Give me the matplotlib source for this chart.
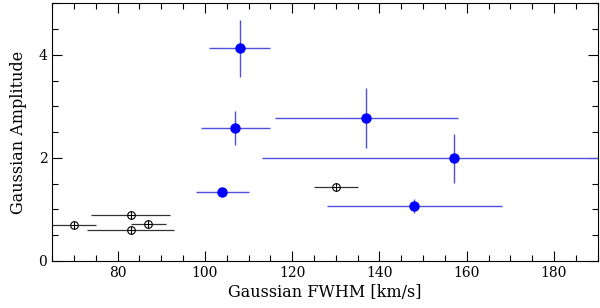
import matplotlib
matplotlib.use("Agg")
import matplotlib.pyplot as plt
from matplotlib.ticker import MultipleLocator

plt.rcParams['font.family'] = ['DejaVu Serif']

# Blue filled points
blue_fwhm = [108, 107, 137, 157, 104, 148]
blue_amp = [4.13, 2.58, 2.78, 1.99, 1.34, 1.07]
blue_fwhm_err = [7, 8, 21, 44, 6, 20]
blue_amp_err = [0.55, 0.33, 0.58, 0.47, 0.0, 0.14]

# Open black points
open_fwhm = [70, 83, 87, 83, 130]
open_amp = [0.70, 0.90, 0.72, 0.60, 1.43]
open_fwhm_err = [5, 9, 4, 10, 5]
open_amp_err = [0.05, 0.06, 0.05, 0.06, 0.05]

fig = plt.figure(figsize=(6.0, 3.08), dpi=100)
ax = fig.add_axes([0.087, 0.153, 0.909, 0.836])

ax.errorbar(open_fwhm, open_amp, xerr=open_fwhm_err, yerr=open_amp_err,
            fmt='none', ecolor='#333333', elinewidth=0.9, capsize=0, zorder=2)
ax.plot(open_fwhm, open_amp, 'o', ms=5.5, mfc='white', mec='black', mew=0.8, zorder=3)
ax.plot(open_fwhm, open_amp, '+', ms=5.5, mec='black', mew=0.8, zorder=4)

ax.errorbar(blue_fwhm, blue_amp, xerr=blue_fwhm_err, yerr=blue_amp_err,
            fmt='o', color='#0000ff', ms=6.5, ecolor='#5050e0', elinewidth=1.0,
            capsize=0, zorder=5)

ax.set_xlim(65, 190)
ax.set_ylim(0, 5)
ax.xaxis.set_major_locator(MultipleLocator(20))
ax.xaxis.set_minor_locator(MultipleLocator(5))
ax.yaxis.set_major_locator(MultipleLocator(2))
ax.yaxis.set_minor_locator(MultipleLocator(0.5))
ax.tick_params(which='both', direction='in', top=True, right=True, labelsize=10, width=0.8)
ax.tick_params(which='major', length=7)
ax.tick_params(which='minor', length=4)
for s in ax.spines.values():
    s.set_linewidth(0.8)

ax.set_xlabel('Gaussian FWHM [km/s]', fontsize=11.5, labelpad=3)
ax.set_ylabel('Gaussian Amplitude', fontsize=11.5, labelpad=8)

fig.savefig('out.png', dpi=100)
